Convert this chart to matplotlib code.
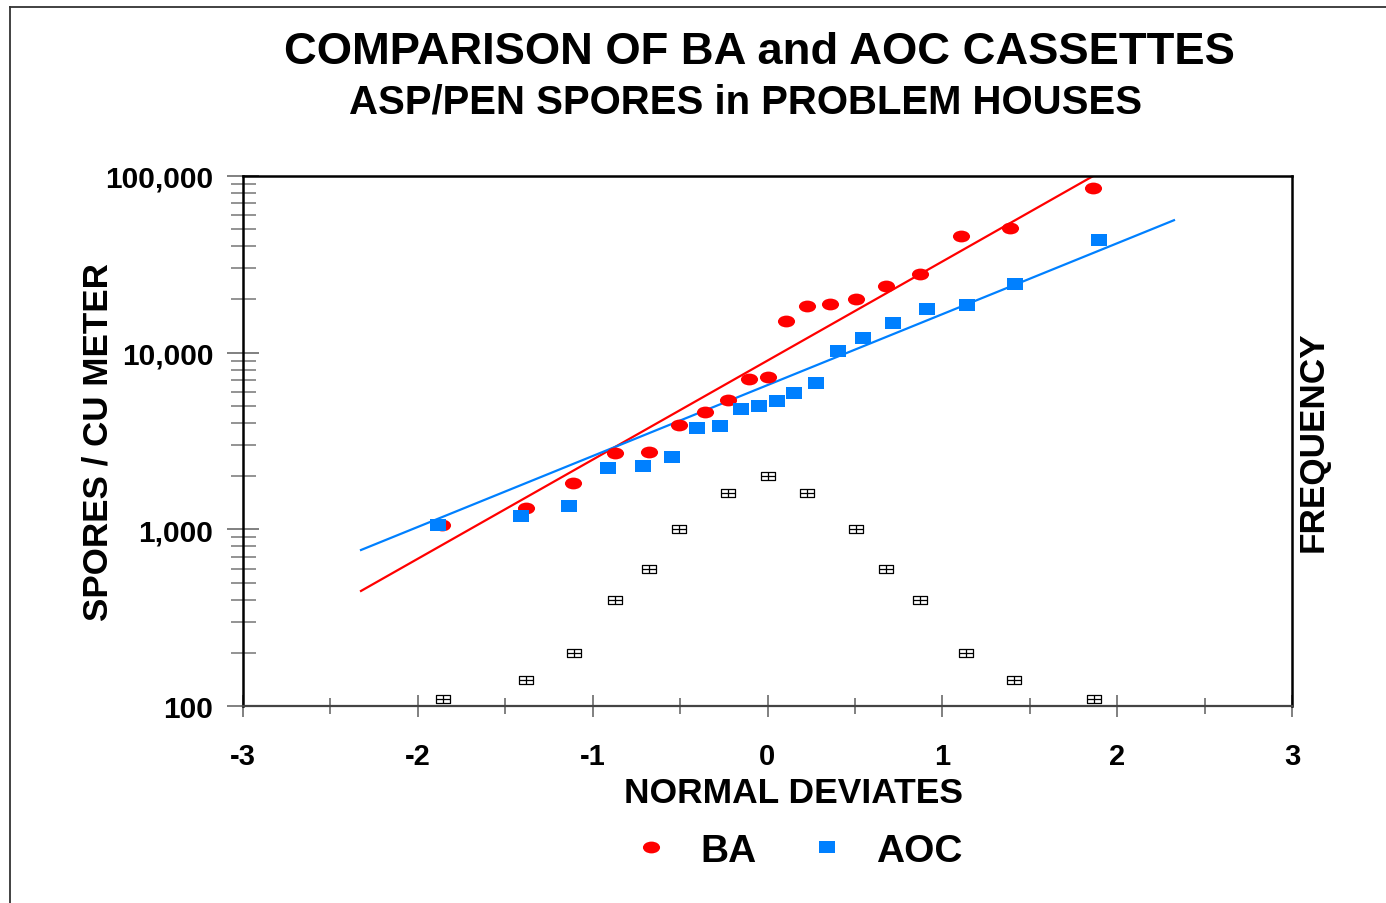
import matplotlib
matplotlib.use("Agg")
import matplotlib.pyplot as plt
from matplotlib.markers import MarkerStyle
from matplotlib.transforms import Affine2D
from matplotlib.path import Path
from matplotlib.ticker import FixedLocator, NullLocator, LogLocator, FixedFormatter
from matplotlib.lines import Line2D

plt.rcParams['font.family'] = ['Liberation Sans', 'DejaVu Sans']
plt.rcParams['font.weight'] = 'bold'
plt.rcParams['axes.unicode_minus'] = False

# ---------------- data ----------------
ba_x = [-1.86, -1.38, -1.11, -0.87, -0.675, -0.505, -0.358, -0.224, -0.104, 0.0,
        0.105, 0.228, 0.358, 0.505, 0.676, 0.871, 1.107, 1.387, 1.864]
ba_y = [1060, 1325, 1820, 2710, 2750, 3890, 4610, 5370, 7060, 7310,
        15040, 18370, 18920, 20100, 23800, 27750, 45500, 50700, 85100]

aoc_x = [-1.883, -1.412, -1.137, -0.911, -0.714, -0.548, -0.405, -0.272, -0.153, -0.049,
         0.053, 0.153, 0.276, 0.405, 0.548, 0.716, 0.912, 1.140, 1.414, 1.895]
aoc_y = [1060, 1195, 1350, 2214, 2280, 2575, 3745, 3855, 4795, 5010,
         5350, 5905, 6700, 10210, 12050, 14710, 17590, 18670, 24540, 43350]

freq_x = [-1.855, -1.383, -1.107, -0.872, -0.675, -0.505, -0.224, 0.0,
          0.228, 0.505, 0.676, 0.872, 1.135, 1.41, 1.868]
freq_y = [110, 140, 200, 400, 600, 1000, 1600, 2000,
          1600, 1000, 600, 400, 200, 140, 110]

fit_x = [-2.325, 2.325]
ba_fit_y = [448, 181600]
aoc_fit_y = [764, 56200]

y_ticks = [100, 1000, 10000, 100000]
y_tick_labels = ["100", "1,000", "10,000", "100,000"]
x_ticks = [-3, -2, -1, 0, 1, 2, 3]

title = "COMPARISON OF BA and AOC CASSETTES"
subtitle = "ASP/PEN SPORES in PROBLEM HOUSES"

RED = "#FF0000"
BLUE = "#0080FF"

# ---------------- figure ----------------
W, H = 1386, 904
fig = plt.figure(figsize=(W / 100, H / 100), dpi=100)
ax = fig.add_axes([243 / W, 1 - 707 / H, (1292 - 243) / W, (707 - 177) / H])

ax.set_xlim(-3, 3)
ax.set_yscale('log')
ax.set_ylim(100, 100000)

# fitted lines
ax.plot(fit_x, ba_fit_y, color=RED, lw=1.6, zorder=2)
ax.plot(fit_x, aoc_fit_y, color=BLUE, lw=1.6, zorder=2)

# frequency markers (boxed cross)
verts = [(-1.5, -1), (1.5, -1), (1.5, 1), (-1.5, 1), (-1.5, -1),
         (0, -1), (0, 1), (-1.5, 0), (1.5, 0)]
codes = [Path.MOVETO, Path.LINETO, Path.LINETO, Path.LINETO, Path.CLOSEPOLY,
         Path.MOVETO, Path.LINETO, Path.MOVETO, Path.LINETO]
box_cross = Path(verts, codes)

ax2 = ax.twinx()
ax2.set_yscale('log')
ax2.set_ylim(100, 100000)
ax2.plot(freq_x, freq_y, linestyle='none', marker=box_cross, markersize=9.5,
         markerfacecolor='none', markeredgecolor='black', markeredgewidth=0.9, zorder=2)
ax2.yaxis.set_major_locator(NullLocator())
ax2.yaxis.set_minor_locator(NullLocator())
ax2.set_ylabel("FREQUENCY", fontsize=25.3, fontweight='bold', va='center', rotation=90)
ax2.yaxis.set_label_coords((1313 - 243) / 1049, 0.5)
for s in ax2.spines.values():
    s.set_visible(False)

ax.set_zorder(ax2.get_zorder() + 1)
ax.patch.set_visible(False)

ba_marker = MarkerStyle('o', transform=Affine2D().scale(1.45, 1.0))
aoc_marker = MarkerStyle('s', transform=Affine2D().scale(1.5, 1.0))
ax.plot(ba_x, ba_y, linestyle='none', marker=ba_marker, markersize=8.5,
        color=RED, markeredgewidth=0, label="BA", zorder=3)
ax.plot(aoc_x, aoc_y, linestyle='none', marker=aoc_marker, markersize=8,
        color=BLUE, markeredgewidth=0, label="AOC", zorder=4)

# ticks
ax.yaxis.set_major_locator(FixedLocator(y_ticks))
ax.yaxis.set_major_formatter(FixedFormatter(y_tick_labels))
ax.yaxis.set_minor_locator(LogLocator(base=10, subs=range(2, 10)))
ax.yaxis.set_minor_formatter(FixedFormatter([]))
ax.xaxis.set_major_locator(FixedLocator(x_ticks))
ax.xaxis.set_minor_locator(FixedLocator([-2.5, -1.5, -0.5, 0.5, 1.5, 2.5]))

ax.tick_params(axis='y', which='major', direction='inout', length=23, width=1.4,
               color='#808080', pad=10, labelsize=21.5)
ax.tick_params(axis='y', which='minor', direction='inout', length=18, width=1.2,
               color='#808080')
ax.tick_params(axis='x', which='major', direction='inout', length=16, width=1.4,
               color='#808080', pad=18, labelsize=21)
ax.tick_params(axis='x', which='minor', direction='inout', length=11, width=1.4,
               color='#808080')
for lab in ax.get_yticklabels() + ax.get_xticklabels():
    lab.set_fontweight('bold')

for side in ['left', 'top', 'right']:
    ax.spines[side].set_color('black')
    ax.spines[side].set_linewidth(1.8)
ax.spines['bottom'].set_color('#444444')
ax.spines['bottom'].set_linewidth(1.6)

ax.set_xlabel("NORMAL DEVIATES", fontsize=25.5, fontweight='bold', va='center')
ax.xaxis.set_label_coords((793.5 - 243) / 1049, (707 - 794) / 530)
ax.set_ylabel("SPORES / CU METER", fontsize=25.2, fontweight='bold', va='center')
ax.yaxis.set_label_coords((98 - 243) / 1049, 0.5)

# titles
fig.text(759 / W, 1 - 64 / H, title, ha='center', va='baseline',
         fontsize=32.7, fontweight='bold')
fig.text(745.5 / W, 1 - 114 / H, subtitle, ha='center', va='baseline',
         fontsize=28.9, fontweight='bold')

# legend
leg = ax.legend(loc='center left', bbox_to_anchor=(632 / W, 1 - 852 / H),
                bbox_transform=fig.transFigure, ncol=2, frameon=False,
                fontsize=28, handlelength=1.0, handletextpad=0.76,
                columnspacing=1.3, borderpad=0, borderaxespad=0, numpoints=1)
for t in leg.get_texts():
    t.set_fontweight('bold')

# slide frame
fig.add_artist(Line2D([9.5 / W, 9.5 / W], [0, 1 - 8 / H], transform=fig.transFigure,
                      color='#333333', lw=1.3))
fig.add_artist(Line2D([9.5 / W, 1], [1 - 8 / H, 1 - 8 / H], transform=fig.transFigure,
                      color='#333333', lw=1.3))

fig.savefig("out.png", dpi=100)
